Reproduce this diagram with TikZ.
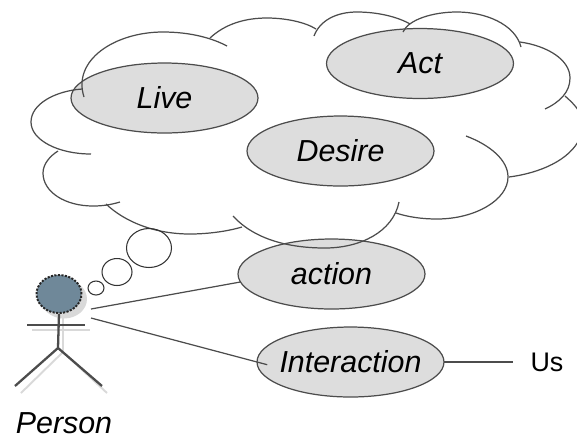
\documentclass[tikz,border=0pt]{standalone}
\usepackage{fontspec}
\setmainfont{Liberation Sans}
\usetikzlibrary{shapes.geometric}
\definecolor{headblue}{HTML}{6F8899}
\definecolor{ovalgray}{HTML}{DDDDDD}

\begin{document}
\begin{tikzpicture}[x=0.02cm, y=-0.02cm,
		main/.style = {draw=black!70, fill=ovalgray, ellipse, line width=0.7pt, inner ysep=0pt, inner xsep=-1cm, outer sep=0pt, minimum width=3.74cm, minimum height=1.4cm, font=\fontsize{17.3}{20}\selectfont\itshape},
		bubble/.style = {draw=black!80, ellipse, line width=0.6pt, inner sep=0pt, outer sep=0pt},
		cloud/.style = {draw=black!70, line width=0.7pt},
		link/.style = {draw=black!70, line width=0.7pt},
		stick/.style = {draw=black!70, line width=1.3pt},
		stickshadow/.style = {draw=black!15, line width=1.1pt}]
	\useasboundingbox (0, 0) rectangle (577, 437);
		\node [main] (live) at (164.5, 98) {Live};
		\node [main] (act) at (420, 63.5) {Act};
		\node [main] (desire) at (340.5, 151) {Desire};
		\node [main] (action) at (331.5, 274) {action};
		\node [main] (interaction) at (350.5, 362) {Interaction};
		\node [font=\fontsize{15.3}{18}\selectfont, inner sep=0pt] (us) at (547, 362) {Us};
		\node [font=\fontsize{17.3}{20}\selectfont\itshape, anchor=base, inner sep=0pt, text depth=0pt] (person) at (64, 433) {Person};
	% cloud
		\draw [cloud] (84, 97) .. controls (72, 60) and (115, 32) .. (163, 32) .. controls (190, 32) and (212, 38) .. (227, 46);
		\draw [cloud] (210, 38) .. controls (225, 24) and (245, 18) .. (267, 18) .. controls (285, 18) and (305, 22) .. (316, 29);
		\draw [cloud] (314, 36) .. controls (320, 20) and (337, 12) .. (357, 12) .. controls (378, 12) and (398, 17) .. (410, 24);
		\draw [cloud] (403, 32) .. controls (408, 20) and (432, 12) .. (457, 12) .. controls (485, 12) and (515, 24) .. (521, 47);
		\draw [cloud] (520, 42) .. controls (548, 46) and (570, 60) .. (570, 78) .. controls (570, 92) and (560, 102) .. (545, 109);
		\draw [cloud] (565, 96) .. controls (574, 104) and (590, 118) .. (580, 138) .. controls (570, 160) and (540, 173) .. (509, 177);
		\draw [cloud] (466, 136) .. controls (490, 145) and (508, 160) .. (508, 177) .. controls (508, 200) and (475, 219) .. (437, 219) .. controls (422, 219) and (408, 217) .. (396, 213);
		\draw [cloud] (399, 202) .. controls (393, 232) and (360, 248) .. (325, 248) .. controls (290, 248) and (255, 240) .. (233, 216);
		\draw [cloud] (242, 227) .. controls (225, 232) and (205, 234) .. (190, 234) .. controls (155, 234) and (125, 222) .. (106, 204);
		\draw [cloud] (120, 202) .. controls (110, 205) and (102, 206) .. (93, 206) .. controls (65, 206) and (43, 192) .. (43, 173) .. controls (43, 164) and (50, 156) .. (58, 151);
		\draw [cloud] (91, 154) .. controls (58, 154) and (31, 140) .. (31, 122) .. controls (31, 104) and (55, 91) .. (82, 89);
	% thought bubbles
		\node [bubble, minimum width=0.9cm, minimum height=0.78cm] (bubbleA) at (149, 248) {};
		\node [bubble, minimum width=0.6cm, minimum height=0.54cm] (bubbleB) at (117, 272) {};
		\node [bubble, minimum width=0.32cm, minimum height=0.28cm] (bubbleC) at (96, 288) {};
	% stick figure
		\node [ellipse, fill=black!15, minimum width=0.92cm, minimum height=0.78cm, inner sep=0pt] (headshadow) at (64, 299) {};
		\draw [stickshadow] (32, 330) -- (90, 330);
		\draw [stickshadow] (63, 318) -- (63, 352);
		\draw [stickshadow] (21, 393) -- (63, 352) -- (107, 393);
		\node [ellipse, fill=headblue, draw=black!85, dash pattern=on 1.2pt off 0.8pt, line width=1.1pt, minimum width=0.9cm, minimum height=0.76cm, inner sep=0pt] (head) at (59, 294) {};
		\coordinate (hip) at (58, 348);
		\coordinate (armL) at (27, 325);
		\coordinate (armR) at (85, 325);
		\draw [stick] (head.south) -- (hip);
		\draw [stick] (armL) -- (armR);
		\draw [stick] (15, 386) -- (hip) -- (102, 386);
	% links
		\coordinate (chestA) at (91, 309);
		\coordinate (chestB) at (91, 318);
		\draw [link] (chestA) to (action.185);
		\draw [link, shorten >=-6pt] (chestB) to (interaction.west);
		\draw [link, shorten >=10pt] (interaction.east) to (us.west);
\end{tikzpicture}
\end{document}
